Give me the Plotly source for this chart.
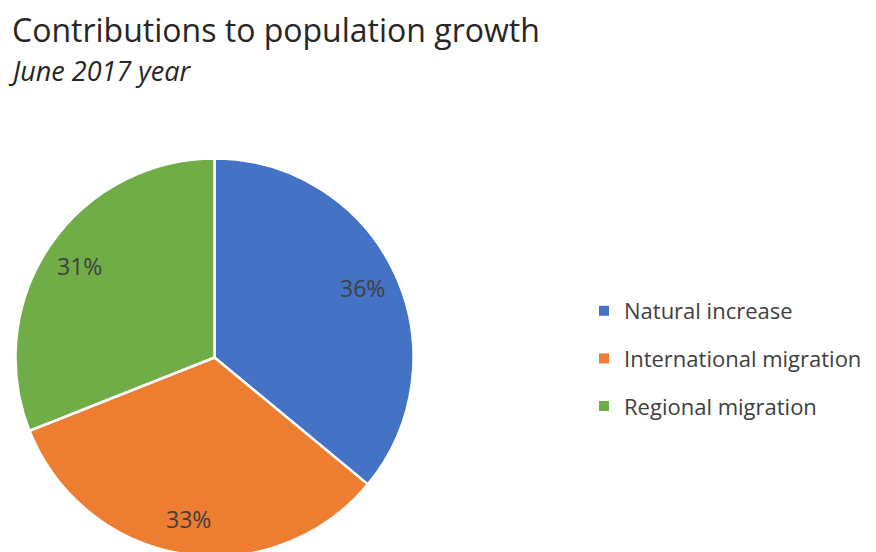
import math
import plotly.graph_objects as go

# Contributions to population growth, June 2017 year (percent shares)
categories = ["Natural increase", "International migration", "Regional migration"]
shares = [36, 33, 31]
colors = ["#4472C4", "#ED7D31", "#70AD47"]
title_text = "Contributions to population growth"
subtitle_text = "June 2017 year"

W, H = 876, 560
FONT = "Open Sans, Noto Sans, DejaVu Sans, sans-serif"
TEXT = "#404040"

# pie geometry in pixels
cx, cy, R = 214.5, 357.5, 199.0

fig = go.Figure()
fig.add_trace(go.Pie(
    labels=categories,
    values=shares,
    marker=dict(colors=colors, line=dict(color="white", width=2.5)),
    sort=False,
    direction="clockwise",
    rotation=0,
    textinfo="none",
    hoverinfo="label+percent",
    showlegend=False,
    domain=dict(x=[(cx - R) / W, (cx + R) / W],
                y=[1 - (cy + R) / H, 1 - (cy - R) / H]),
))

# legend entries, one group per category so rows can be spaced apart
for name, col in zip(categories, colors):
    fig.add_trace(go.Scatter(
        x=[None], y=[None], mode="markers", name=name, legendgroup=name,
        marker=dict(symbol="square", size=10, color=col),
        hoverinfo="skip",
    ))

# percentage labels along each slice's bisector
total = sum(shares)
start = 0.0
for v in shares:
    mid = start + v / total * 180.0
    start += v / total * 360.0
    th = math.radians(mid)
    px = cx + 0.82 * R * math.sin(th)
    py = cy - 0.82 * R * math.cos(th)
    fig.add_annotation(
        x=px / W, y=1 - py / H, xref="paper", yref="paper",
        text=f"{round(v / total * 100)}%", showarrow=False,
        font=dict(family=FONT, size=23, color=TEXT),
        xanchor="center", yanchor="middle",
    )

fig.add_annotation(
    x=10 / W, y=1 - 6 / H, xref="paper", yref="paper",
    text=title_text, showarrow=False, xanchor="left", yanchor="top",
    font=dict(family=FONT, size=32, color="#262626"),
)
fig.add_annotation(
    x=6 / W, y=1 - 50 / H, xref="paper", yref="paper",
    text=f"<i>{subtitle_text}</i>", showarrow=False, xanchor="left", yanchor="top",
    font=dict(family=FONT, size=27, color="#262626"),
)

fig.update_layout(
    width=W, height=H,
    margin=dict(l=0, r=0, t=0, b=0),
    paper_bgcolor="white", plot_bgcolor="white",
    xaxis=dict(visible=False), yaxis=dict(visible=False),
    legend=dict(
        x=584 / W, y=1 - 290 / H, xanchor="left", yanchor="top",
        traceorder="grouped", tracegroupgap=16,
        font=dict(family=FONT, size=22, color=TEXT),
        bgcolor="rgba(0,0,0,0)",
    ),
    showlegend=True,
)

fig.write_html(
    "out.html",
    post_script="document.body.style.overflow='hidden';"
                "document.documentElement.style.overflow='hidden';",
)
